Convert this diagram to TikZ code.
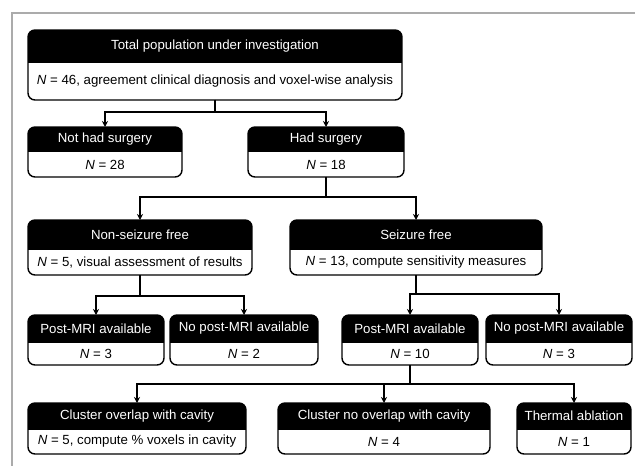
\documentclass[tikz,border=0pt]{standalone}
\usepackage{fontspec}
\setmainfont{Liberation Sans}
\usetikzlibrary{arrows.meta}
\tikzset{
  boxline/.style={line width=1.4bp, rounded corners=7bp},
  conn/.style={line width=2bp, -{Stealth[length=6bp,width=6bp]}},
  frameline/.style={draw=black!33, line width=1.5bp},
  hdr/.style={text=white, font=\fontsize{13.3}{15}\selectfont, inner sep=0pt},
  bdy/.style={text=black, font=\fontsize{13.3}{15}\selectfont, inner sep=0pt},
  boxanchor/.style={draw=none, inner sep=0pt, outer sep=0pt},
}
\newcommand{\flowbox}[8]{% name, x1, x2, y1, ysplit, y2, header, body
  \node[boxanchor, minimum width={#3bp-#2bp}, minimum height={#6bp-#4bp}] (#1) at ({(#2+#3)/2},{(#4+#6)/2}) {};
  \begin{scope}
    \clip[rounded corners=7bp] (#1.north west) rectangle (#1.south east);
    \fill[black] (#1.north west) rectangle (#3,#5);
  \end{scope}
  \draw[boxline] (#1.north west) rectangle (#1.south east);
  \draw[line width=1bp] (#2,#5) -- (#3,#5);
  \node[hdr] (#1-h) at ({(#2+#3)/2},{(#4+#5)/2}) {#7};
  \node[bdy] (#1-b) at ({(#2+#3)/2},{(#5+#6)/2}) {#8};
}
\begin{document}
\begin{tikzpicture}[x=1bp,y=-1bp]
  \useasboundingbox (0,0) rectangle (635,466);
  \fill[white] (0,0) rectangle (635,466);
  \draw[frameline] (12,466) -- (12,13) -- (635,13);

  \flowbox{total}{28}{402}{30}{63}{100}{Total population under investigation}{\textit{N} = 46, agreement clinical diagnosis and voxel-wise analysis}
  \flowbox{nosurg}{28}{182}{127}{152}{177}{Not had surgery}{\textit{N} = 28}
  \flowbox{surg}{248}{404}{127}{152}{177}{Had surgery}{\textit{N} = 18}
  \flowbox{nsf}{28}{252}{220}{250}{275}{Non-seizure free}{\textit{N} = 5, visual assessment of results}
  \flowbox{sf}{290}{542}{220}{250}{275}{Seizure free}{\textit{N} = 13, compute sensitivity measures}
  \flowbox{postA}{28}{164}{315}{342}{365}{Post-MRI available}{\textit{N} = 3}
  \flowbox{nopostA}{170}{318}{315}{342}{365}{No post-MRI available}{\textit{N} = 2}
  \flowbox{postB}{342}{478}{315}{342}{365}{Post-MRI available}{\textit{N} = 10}
  \flowbox{nopostB}{486}{632}{315}{342}{365}{No post-MRI available}{\textit{N} = 3}
  \flowbox{overlap}{28}{246}{403}{429}{454}{Cluster overlap with cavity}{\textit{N} = 5, compute \% voxels in cavity}
  \flowbox{nooverlap}{278}{490}{403}{429}{454}{Cluster no overlap with cavity}{\textit{N} = 4}
  \flowbox{thermal}{517}{631}{403}{429}{454}{Thermal ablation}{\textit{N} = 1}

  \draw[conn] (total.south) -- ++(0,12) -| (nosurg.north);
  \draw[conn] (total.south) -- ++(0,12) -| (surg.north);
  \draw[conn] (surg.south) -- ++(0,20) -| (nsf.north);
  \draw[conn] (surg.south) -- ++(0,20) -| (sf.north);
  \draw[conn] (nsf.south) -- ++(0,21) -| (postA.north);
  \draw[conn] (nsf.south) -- ++(0,21) -| (nopostA.north);
  \draw[conn] (sf.south) -- ++(0,19) -| (postB.north);
  \draw[conn] (sf.south) -- ++(0,19) -| (nopostB.north);
  \draw[conn] (postB.south) -- ++(0,19) -| (overlap.north);
  \draw[conn] (postB.south) -- ++(0,19) -| (nooverlap.north);
  \draw[conn] (postB.south) -- ++(0,19) -| (thermal.north);
\end{tikzpicture}
\end{document}
